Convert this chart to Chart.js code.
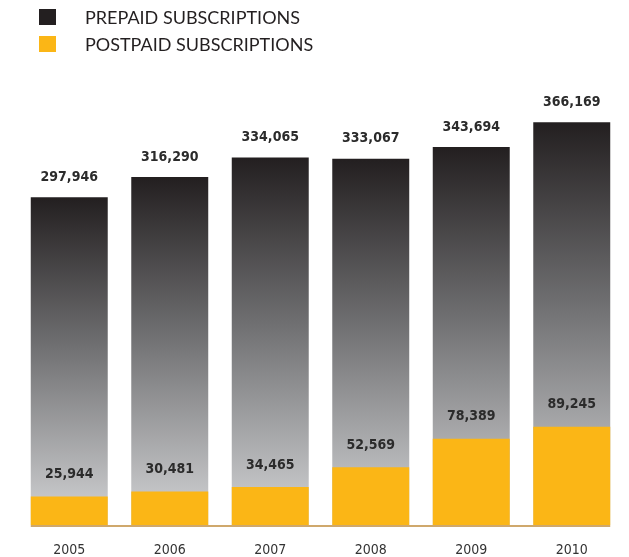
<!DOCTYPE html>
<html>
<head>
<meta charset="utf-8">
<script src="https://cdn.jsdelivr.net/npm/chart.js@4.4.0/dist/chart.umd.min.js"></script>
<style>
  html, body { margin: 0; padding: 0; background: #fff; }
  #wrap { width: 629px; height: 557px; position: relative; }
</style>
</head>
<body>
<div id="wrap"><canvas id="subsChart" width="629" height="557"></canvas></div>
<script>
// Subscriptions chart - prepaid vs postpaid, overlapping bars

var years = ['2005', '2006', '2007', '2008', '2009', '2010'];
var prepaid = [297946, 316290, 334065, 333067, 343694, 366169];
var postpaid = [25944, 30481, 34465, 52569, 78389, 89245];
var seriesNames = ['PREPAID SUBSCRIPTIONS', 'POSTPAID SUBSCRIPTIONS'];

var darkColor = '#231f20';
var yellowColor = '#fbb616';
var labelColor = '#2b2b2b';

function fmt(v) {
  return String(v).replace(/\B(?=(\d{3})+(?!\d))/g, ',');
}

// Per-bar vertical gradient, dark at the top, pale grey at the base
function prepaidFill(context) {
  var chart = context.chart;
  var yScale = chart.scales.y;
  if (!chart.chartArea || !yScale) return darkColor;
  var top = yScale.getPixelForValue(prepaid[context.dataIndex]);
  var bottom = yScale.getPixelForValue(0);
  var g = chart.ctx.createLinearGradient(0, top, 0, bottom);
  g.addColorStop(0, '#231f20');
  g.addColorStop(0.45, '#6f6f71');
  g.addColorStop(1, '#d4d5d7');
  return g;
}

// Legend, value labels and base line
var decorPlugin = {
  id: 'decor',
  afterDatasetsDraw: function(chart) {
    var ctx = chart.ctx;
    ctx.save();

    // legend
    var swatches = [darkColor, yellowColor];
    ctx.font = '400 18px Lato, "Open Sans", sans-serif';
    ctx.textBaseline = 'middle';
    ctx.textAlign = 'left';
    for (var i = 0; i < seriesNames.length; i++) {
      var cy = 17 + i * 27;
      ctx.fillStyle = swatches[i];
      ctx.fillRect(39, cy - 8, 17, 16);
      ctx.fillStyle = '#231f20';
      ctx.fillText(seriesNames[i], 85, cy + 1);
    }

    // value labels
    ctx.font = 'bold 14px "DejaVu Sans Condensed", "DejaVu Sans", sans-serif';
    ctx.textAlign = 'center';
    ctx.fillStyle = labelColor;
    var metaPre = chart.getDatasetMeta(0);
    var metaPost = chart.getDatasetMeta(1);
    metaPre.data.forEach(function(bar, idx) {
      ctx.fillText(fmt(prepaid[idx]), bar.x, bar.y - 20);
    });
    metaPost.data.forEach(function(bar, idx) {
      ctx.fillText(fmt(postpaid[idx]), bar.x, bar.y - 22);
    });

    // base line across the bars
    var first = metaPre.data[0];
    var last = metaPre.data[metaPre.data.length - 1];
    var baseY = chart.scales.y.getPixelForValue(0);
    ctx.strokeStyle = '#cfa86c';
    ctx.lineWidth = 2;
    ctx.beginPath();
    ctx.moveTo(first.x - first.width / 2, baseY + 1);
    ctx.lineTo(last.x + last.width / 2, baseY + 1);
    ctx.stroke();

    ctx.restore();
  }
};

var chart = new Chart(document.getElementById('subsChart').getContext('2d'), {
  type: 'bar',
  data: {
    labels: years,
    datasets: [{
      label: seriesNames[0],
      data: prepaid,
      backgroundColor: prepaidFill,
      order: 2
    }, {
      label: seriesNames[1],
      data: postpaid,
      backgroundColor: yellowColor,
      order: 1
    }]
  },
  options: {
    responsive: false,
    animation: false,
    layout: {
      padding: { top: 63, left: 19, right: 7, bottom: 0 }
    },
    datasets: {
      bar: {
        categoryPercentage: 1,
        barPercentage: 0.766,
        borderWidth: 0
      }
    },
    plugins: {
      legend: { display: false },
      tooltip: { enabled: false }
    },
    scales: {
      x: {
        stacked: true,
        grid: { display: false },
        border: { display: false },
        ticks: {
          color: '#333',
          padding: 9,
          font: { family: '"DejaVu Sans Condensed", "DejaVu Sans", sans-serif', size: 14 }
        },
        afterFit: function(scale) { scale.height = 32; }
      },
      y: {
        stacked: false,
        display: false,
        min: 0,
        max: 420000
      }
    }
  },
  plugins: [decorPlugin]
});
</script>
</body>
</html>
